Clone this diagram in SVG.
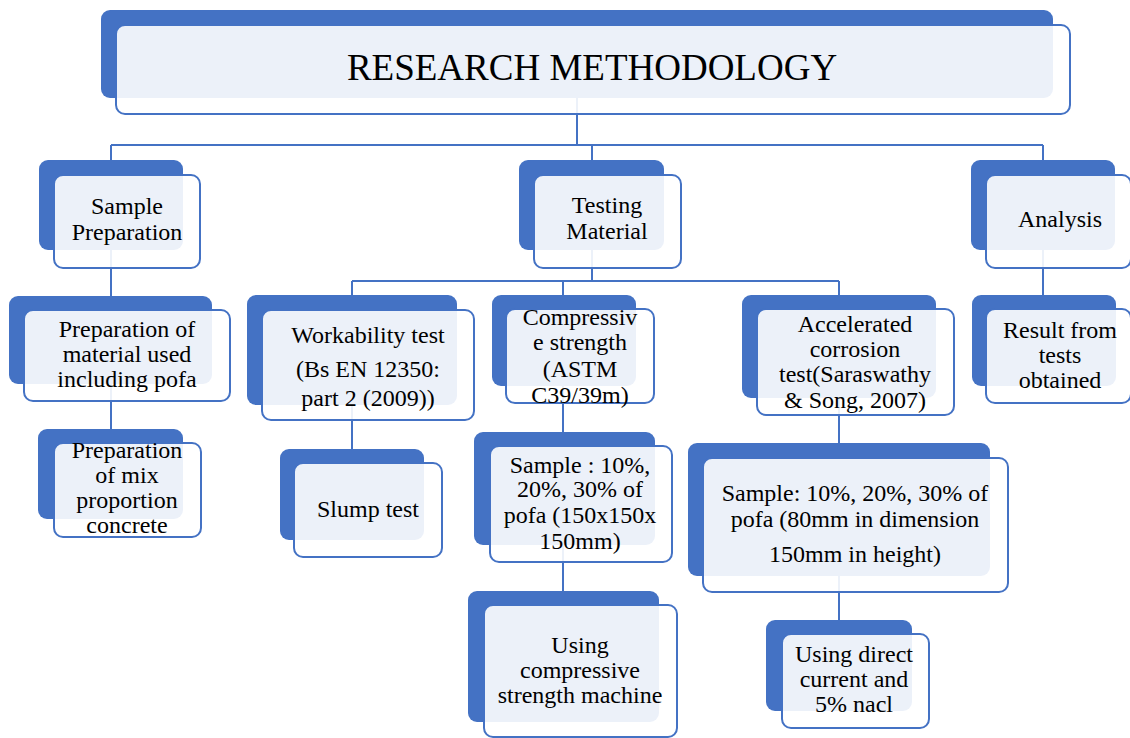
<svg xmlns="http://www.w3.org/2000/svg" width="1130" height="738" viewBox="0 0 1130 738">
<style>
.bk{fill:#4472C4}
.fr{fill:#FFFFFF;fill-opacity:0.9;stroke:#4472C4;stroke-width:2}
.ln{stroke:#4472C4;stroke-width:2;fill:none}
text{font-family:"Liberation Serif","Times New Roman",serif;font-size:24px;fill:#000;text-anchor:middle}
.t{font-size:37px}
</style>
<rect width="1130" height="738" fill="#FFFFFF"/>
<g id="connectors">
<path class="ln" d="M577 97V145M111 145H1043M111 145V160M592 145V160M1043 145V160"/>
<path class="ln" d="M111 250V296M111 383V429"/>
<path class="ln" d="M592 250V281M352 281H839M352 281V295M563 281V295M839 281V295"/>
<path class="ln" d="M352 405V449M563 386V432M563 545V591M839 398V443M839 576V620M1043 250V295"/>
</g>
<g id="title">
<rect class="bk" x="101" y="10" width="952" height="88" rx="9"/>
<rect class="fr" x="116" y="25" width="954" height="89" rx="9"/>
<text class="t" x="592" y="80">RESEARCH METHODOLOGY</text>
</g>
<g id="sample-preparation">
<rect class="bk" x="39" y="160" width="144" height="90" rx="9"/>
<rect class="fr" x="54" y="175" width="146" height="93" rx="9"/>
<text x="127" y="214">Sample</text>
<text x="127" y="240">Preparation</text>
</g>
<g id="testing-material">
<rect class="bk" x="519" y="160" width="145" height="90" rx="9"/>
<rect class="fr" x="534" y="175" width="147" height="93" rx="9"/>
<text x="607" y="213">Testing</text>
<text x="607" y="239">Material</text>
</g>
<g id="analysis">
<rect class="bk" x="971" y="160" width="144" height="90" rx="9"/>
<rect class="fr" x="986" y="175" width="145" height="93" rx="9"/>
<text x="1060" y="227">Analysis</text>
</g>
<g id="prep-material">
<rect class="bk" x="9" y="296" width="203" height="88" rx="9"/>
<rect class="fr" x="24" y="310" width="206" height="91" rx="9"/>
<text x="127" y="337">Preparation of</text>
<text x="127" y="362">material used</text>
<text x="127" y="387">including pofa</text>
</g>
<g id="prep-mix">
<rect class="bk" x="38" y="429" width="145" height="90" rx="9"/>
<rect class="fr" x="54" y="443" width="147" height="94" rx="9"/>
<text x="127" y="458">Preparation</text>
<text x="127" y="483">of mix</text>
<text x="127" y="508">proportion</text>
<text x="127" y="533">concrete</text>
</g>
<g id="workability">
<rect class="bk" x="247" y="295" width="210" height="110" rx="9"/>
<rect class="fr" x="262" y="310" width="212" height="110" rx="9"/>
<text x="368" y="343">Workability  test</text>
<text x="368" y="377">(Bs EN 12350:</text>
<text x="368" y="406">part 2 (2009))</text>
</g>
<g id="slump">
<rect class="bk" x="280" y="449" width="144" height="91" rx="9"/>
<rect class="fr" x="294" y="463" width="148" height="94" rx="9"/>
<text x="368" y="517">Slump test</text>
</g>
<g id="compressive">
<rect class="bk" x="492" y="295" width="144" height="91" rx="9"/>
<rect class="fr" x="506" y="309" width="148" height="94" rx="9"/>
<text x="580" y="325">Compressiv</text>
<text x="580" y="350">e strength</text>
<text x="580" y="377">(ASTM</text>
<text x="580" y="403">C39/39m)</text>
</g>
<g id="sample-compressive">
<rect class="bk" x="474" y="432" width="181" height="113" rx="9"/>
<rect class="fr" x="490" y="446" width="182" height="116" rx="9"/>
<text x="580" y="473">Sample : 10%,</text>
<text x="580" y="497">20%, 30% of</text>
<text x="580" y="523">pofa (150x150x</text>
<text x="580" y="549">150mm)</text>
</g>
<g id="using-compressive">
<rect class="bk" x="468" y="591" width="191" height="131" rx="9"/>
<rect class="fr" x="484" y="605" width="193" height="132" rx="9"/>
<text x="580" y="653">Using</text>
<text x="580" y="678">compressive</text>
<text x="580" y="703">strength machine</text>
</g>
<g id="accelerated">
<rect class="bk" x="742" y="295" width="194" height="103" rx="9"/>
<rect class="fr" x="757" y="309" width="197" height="106" rx="9"/>
<text x="855" y="332">Accelerated</text>
<text x="855" y="357">corrosion</text>
<text x="855" y="382">test(Saraswathy</text>
<text x="855" y="408">&amp; Song, 2007)</text>
</g>
<g id="sample-corrosion">
<rect class="bk" x="688" y="443" width="302" height="133" rx="9"/>
<rect class="fr" x="703" y="458" width="305" height="134" rx="9"/>
<text x="855" y="501">Sample: 10%, 20%, 30% of</text>
<text x="855" y="527">pofa (80mm in dimension</text>
<text x="855" y="562">150mm in height)</text>
</g>
<g id="direct-current">
<rect class="bk" x="766" y="620" width="146" height="91" rx="9"/>
<rect class="fr" x="782" y="634" width="147" height="94" rx="9"/>
<text x="854" y="662">Using direct</text>
<text x="854" y="687">current and</text>
<text x="854" y="712">5% nacl</text>
</g>
<g id="result">
<rect class="bk" x="972" y="295" width="144" height="91" rx="9"/>
<rect class="fr" x="986" y="309" width="145" height="94" rx="9"/>
<text x="1060" y="338">Result from</text>
<text x="1060" y="363">tests</text>
<text x="1060" y="388">obtained</text>
</g>
</svg>
